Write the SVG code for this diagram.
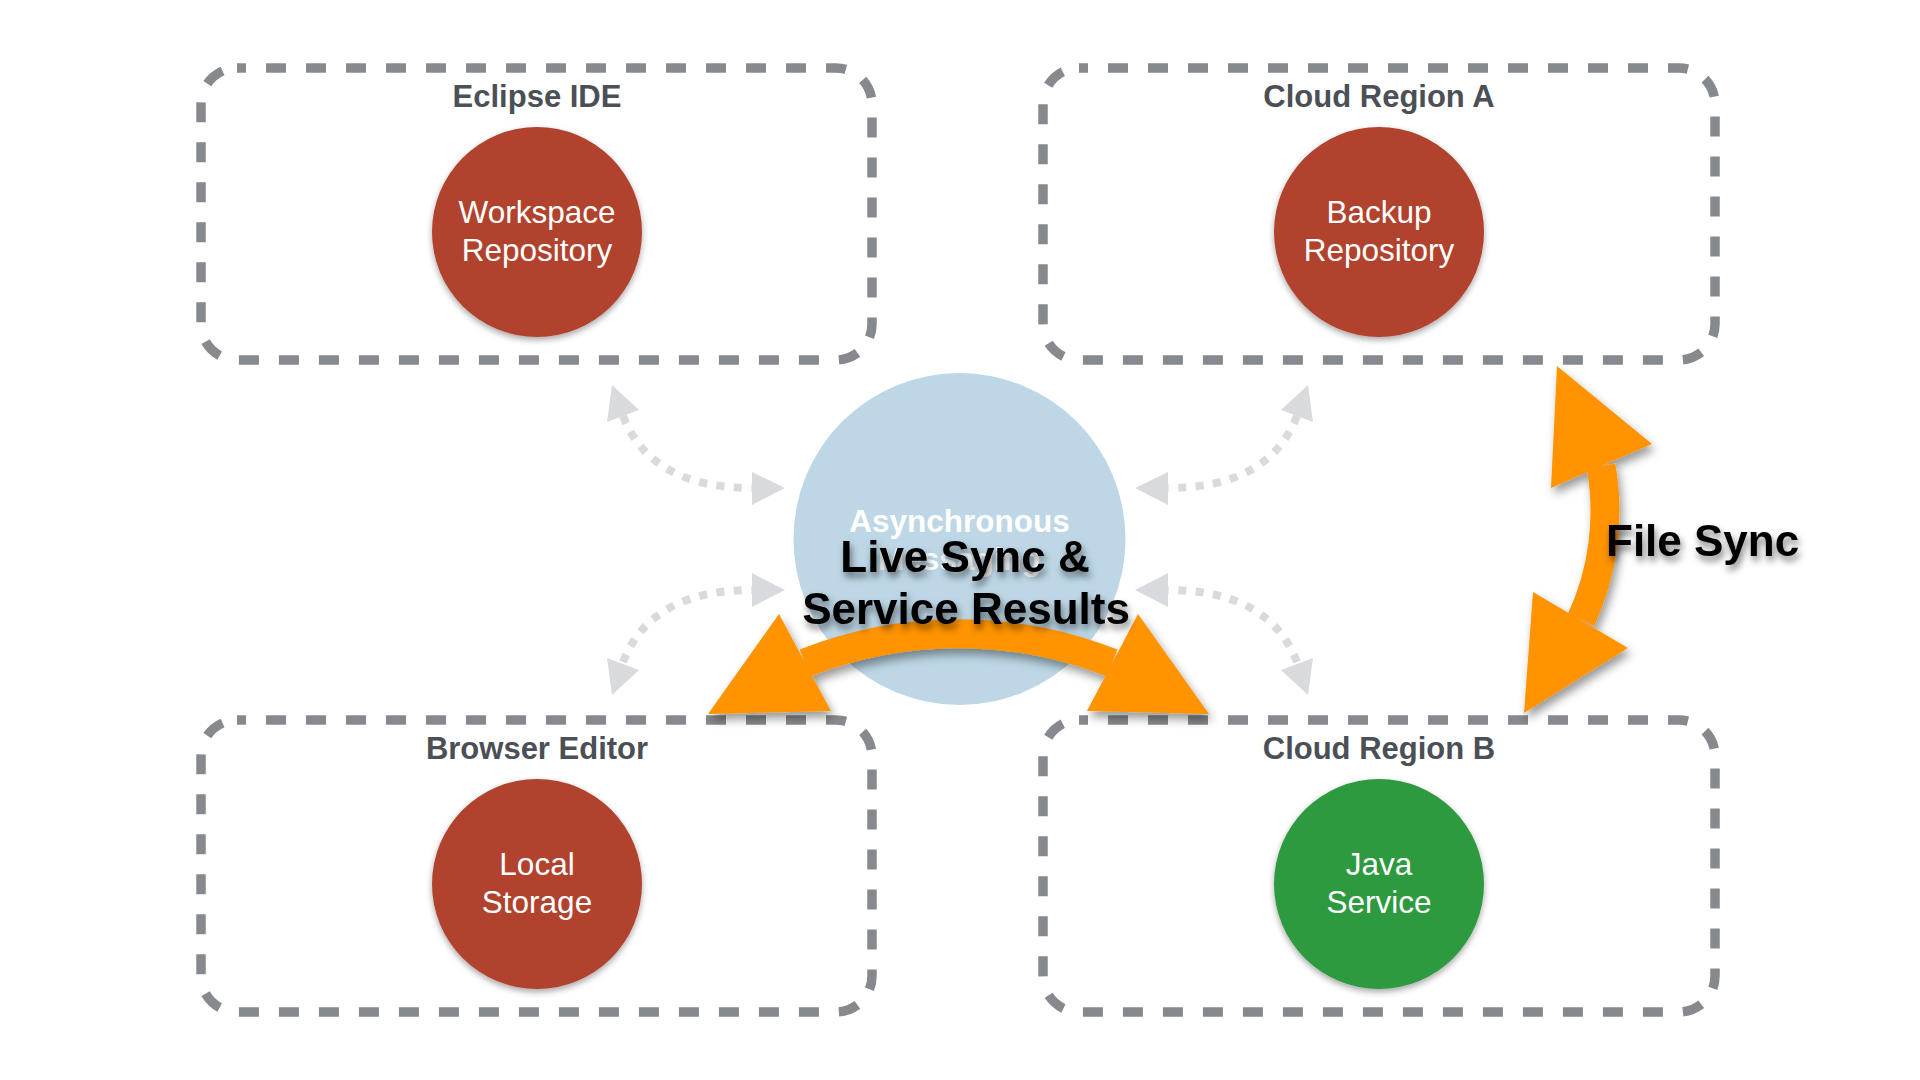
<svg xmlns="http://www.w3.org/2000/svg" width="1920" height="1080" viewBox="0 0 1920 1080">
<defs>
<style>
.box{fill:none;stroke:#86898d;stroke-width:9.5;stroke-dasharray:20 20;stroke-dashoffset:11}
.title{font-family:"Liberation Sans",Arial,sans-serif;font-weight:bold;font-size:31px;fill:#4b4f56;text-anchor:middle}
.lbl{font-family:"Liberation Sans",Arial,sans-serif;font-size:31.5px;fill:#ffffff;text-anchor:middle}
.red{fill:#b1432f}
.green{fill:#2f9a41}
.dot{fill:none;stroke:#d9dadd;stroke-width:8;stroke-dasharray:8 9.5}
.ghead{fill:#d9dadd}
.orange{fill:#ff9300}
.oline{fill:none;stroke:#ff9300;stroke-width:29}
.big{font-family:"Liberation Sans",Arial,sans-serif;font-weight:bold;font-size:44px;fill:#000000}
</style>
<filter id="nodeShadow" x="-20%" y="-20%" width="140%" height="140%">
<feDropShadow dx="0" dy="3" stdDeviation="3" flood-color="#000" flood-opacity="0.35"/>
</filter>
<filter id="arrowShadow" x="-20%" y="-20%" width="140%" height="150%">
<feDropShadow dx="3" dy="6" stdDeviation="5" flood-color="#000" flood-opacity="0.4"/>
</filter>
<filter id="textShadow" x="-10%" y="-30%" width="120%" height="170%">
<feDropShadow dx="2" dy="5" stdDeviation="3.5" flood-color="#000" flood-opacity="0.5"/>
</filter>
</defs>
<rect width="1920" height="1080" fill="#ffffff"/>

<!-- containers -->
<g id="eclipse-ide">
<rect class="box" x="201" y="68" width="671" height="292" rx="36"/>
<text class="title" x="537" y="107">Eclipse IDE</text>
</g>
<g id="cloud-region-a">
<rect class="box" x="1043" y="68" width="672" height="292" rx="36"/>
<text class="title" x="1379" y="107">Cloud Region A</text>
</g>
<g id="browser-editor">
<rect class="box" x="201" y="720" width="671" height="292" rx="36"/>
<text class="title" x="537" y="759">Browser Editor</text>
</g>
<g id="cloud-region-b">
<rect class="box" x="1043" y="720" width="672" height="292" rx="36"/>
<text class="title" x="1379" y="759">Cloud Region B</text>
</g>

<!-- inner nodes -->
<g id="workspace-repository">
<circle class="red" cx="537" cy="232" r="105" filter="url(#nodeShadow)"/>
<text class="lbl" x="537" y="223">Workspace</text>
<text class="lbl" x="537" y="261">Repository</text>
</g>
<g id="backup-repository">
<circle class="red" cx="1379" cy="232" r="105" filter="url(#nodeShadow)"/>
<text class="lbl" x="1379" y="223">Backup</text>
<text class="lbl" x="1379" y="261">Repository</text>
</g>
<g id="local-storage">
<circle class="red" cx="537" cy="884" r="105" filter="url(#nodeShadow)"/>
<text class="lbl" x="537" y="875">Local</text>
<text class="lbl" x="537" y="913">Storage</text>
</g>
<g id="java-service">
<circle class="green" cx="1379" cy="884" r="105" filter="url(#nodeShadow)"/>
<text class="lbl" x="1379" y="875">Java</text>
<text class="lbl" x="1379" y="913">Service</text>
</g>
<g id="asynchronous-messaging">
<circle cx="959.5" cy="539" r="166" fill="#bdd7e6"/>
<text x="959.5" y="532" font-family="Liberation Sans, Arial, sans-serif" font-weight="bold" font-size="31.5" fill="#ffffff" text-anchor="middle">Asynchronous</text>
<text x="959.5" y="570" font-family="Liberation Sans, Arial, sans-serif" font-weight="bold" font-size="31.5" fill="#ffffff" text-anchor="middle">Messaging</text>
</g>

<!-- connectors -->
<g id="connectors">
<g id="dotted-links">
<path class="dot" d="M623,416 Q651,488 752,488"/>
<polygon class="ghead" points="612,385 639,410 607,422"/>
<polygon class="ghead" points="785,488 752,472 752,505"/>
<path class="dot" d="M623,662 Q651,590 752,590"/>
<polygon class="ghead" points="612,695 607,658 639,670"/>
<polygon class="ghead" points="785,590 752,573 752,607"/>
<path class="dot" d="M1297,416 Q1269,488 1168,488"/>
<polygon class="ghead" points="1308,385 1281,410 1313,422"/>
<polygon class="ghead" points="1135,488 1168,472 1168,505"/>
<path class="dot" d="M1297,662 Q1269,590 1168,590"/>
<polygon class="ghead" points="1308,695 1313,658 1281,670"/>
<polygon class="ghead" points="1135,590 1168,573 1168,607"/>
</g>
<g id="live-sync-arrow" filter="url(#arrowShadow)">
<path class="oline" d="M805,663 A417,417 0 0 1 1112,663"/>
<polygon class="orange" points="779,614 708,714 831,711"/>
<polygon class="orange" points="1138,614 1209,714 1087,711"/>
</g>
<g id="file-sync-arrow" filter="url(#arrowShadow)">
<path class="oline" d="M1601,466 A258,258 0 0 1 1581,620"/>
<polygon class="orange" points="1557,366 1652,444 1551,488"/>
<polygon class="orange" points="1533,592 1628,648 1524,713"/>
</g>
<g id="connector-labels" filter="url(#textShadow)">
<text class="big" x="965" y="572" text-anchor="middle">Live Sync &amp;</text>
<text class="big" x="966" y="624" text-anchor="middle">Service Results</text>
<text class="big" x="1606" y="556">File Sync</text>
</g>
</g>
</svg>
